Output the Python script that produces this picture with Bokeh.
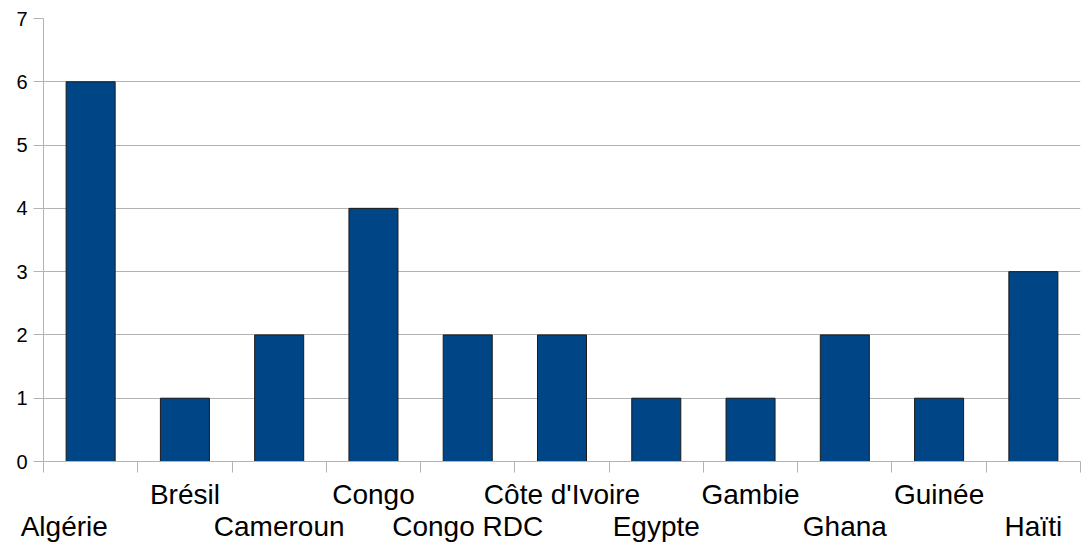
from bokeh.plotting import figure
from bokeh.models import FixedTicker, Range1d, LinearAxis
from bokeh.embed import file_html
from bokeh.resources import INLINE

countries = ["Algérie", "Brésil", "Cameroun", "Congo", "Congo RDC", "Côte d'Ivoire",
             "Egypte", "Gambie", "Ghana", "Guinée", "Haïti"]
counts = [6, 1, 2, 4, 2, 2, 1, 1, 2, 1, 3]
y_ticks = [0, 1, 2, 3, 4, 5, 6, 7]

W, H = 1089, 544
p = figure(width=W, height=H, output_backend="svg", toolbar_location=None,
           x_range=Range1d(0, len(countries)), y_range=Range1d(0, 7),
           x_axis_location=None,
           min_border_left=43, min_border_right=9, min_border_top=18, min_border_bottom=82)
p.outline_line_color = None
p.background_fill_color = "white"
p.border_fill_color = "white"

xs = [i + 0.5 for i in range(len(countries))]
p.vbar(x=xs, top=counts, width=0.52, bottom=0, fill_color="#004586",
       line_color="#1a1a1a", line_width=1)

grid = "#b3b3b3"
p.yaxis.ticker = FixedTicker(ticks=y_ticks)
p.yaxis.axis_line_color = grid
p.yaxis.major_tick_line_color = grid
p.yaxis.major_tick_out = 10
p.yaxis.major_tick_in = 0
p.yaxis.minor_tick_line_color = None
p.yaxis.major_label_text_font = "Liberation Sans"
p.yaxis.major_label_text_font_size = "20px"
p.yaxis.major_label_text_color = "black"
p.yaxis.major_label_standoff = 6

# label positions: category centres (the first label sits further left, as in the original)
label_pos = list(xs)
label_pos[0] = xs[0] - 0.28
overrides = {}
for i, name in enumerate(countries):
    overrides[label_pos[i]] = name if i % 2 == 1 else "\n" + name

ax = LinearAxis(ticker=FixedTicker(ticks=label_pos,
                                   minor_ticks=list(range(len(countries) + 1))),
                major_label_overrides=overrides,
                axis_line_color=grid, major_tick_line_color=None,
                major_tick_out=0, major_tick_in=0,
                minor_tick_line_color=grid, minor_tick_out=11, minor_tick_in=0,
                major_label_text_font="Liberation Sans",
                major_label_text_font_size="28px",
                major_label_text_color="black",
                major_label_text_line_height=1.04,
                major_label_standoff=6)
p.add_layout(ax, "below")

p.ygrid.grid_line_color = grid
p.ygrid.ticker = FixedTicker(ticks=y_ticks)
p.xgrid.grid_line_color = None

open("out.html", "w").write(file_html(p, INLINE))
